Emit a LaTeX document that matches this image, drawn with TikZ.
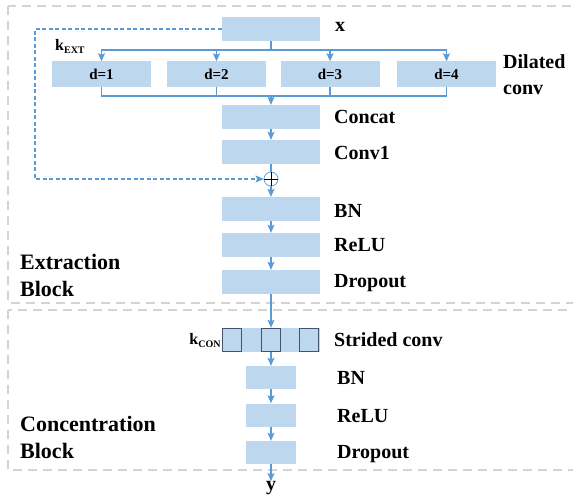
\documentclass[tikz,border=0pt]{standalone}
\usepackage{fontspec}
\setmainfont{Liberation Serif}
\usetikzlibrary{arrows.meta}

\definecolor{boxblue}{HTML}{BDD7EE}
\definecolor{lineblue}{HTML}{5B9BD5}
\definecolor{framegray}{HTML}{D4D4D4}
\definecolor{kernelgray}{HTML}{44546A}

\tikzset{
    layer/.style={fill=boxblue, minimum width=98pt, minimum height=24pt, inner sep=0pt},
    thinlayer/.style={layer, minimum width=50pt, minimum height=23pt},
    kernel/.style={draw=kernelgray, line width=1.4pt, fill=boxblue, minimum width=19pt, minimum height=23pt, inner sep=0pt},
    lbl/.style={anchor=west, font=\fontsize{20}{26}\selectfont\bfseries, align=left, inner sep=0pt},
    blocklbl/.style={anchor=west, font=\fontsize{22}{27}\selectfont\bfseries, align=left, inner sep=0pt},
    dlbl/.style={font=\fontsize{15}{15}\selectfont\bfseries},
    flow/.style={draw=lineblue, line width=1.2pt},
    skipline/.style={flow, dash pattern=on 4pt off 2.5pt},
    frame/.style={draw=framegray, line width=1.6pt, dash pattern=on 9pt off 6pt}
}

\begin{document}
\begin{tikzpicture}[x=1pt, y=-1pt, >={Stealth[length=8pt,width=7pt,inset=1.5pt]}]
    \useasboundingbox (0,0) rectangle (573,495);

    % Block frames
    \draw[frame] (8,6) rectangle (600,303);
    \draw[frame] (8,310) rectangle (600,470);
    \node[blocklbl] (extlbl) at (20,275) {Extraction\\Block};
    \node[blocklbl] (conlbl) at (20,437) {Concentration\\Block};

    % Extraction block
    \node[layer] (x) at (271,29) {};
    \node[lbl] (xlbl) at (335,27) {x};

    \node[layer, minimum width=99pt, minimum height=25pt] (d1) at (101.5,74) {};
    \node[layer, minimum width=99pt, minimum height=25pt] (d2) at (216.5,74) {};
    \node[layer, minimum width=99pt, minimum height=25pt] (d3) at (330,74) {};
    \node[layer, minimum width=99pt, minimum height=25pt] (d4) at (446.5,74) {};
    \foreach \i in {1,...,4}
        \node[dlbl] (dl\i) at (d\i) {d=\i};
    \node[lbl] (dillbl) at (503,75) {Dilated\\conv};
    \node[anchor=west, inner sep=0pt] (kext) at (55,46)
        {\fontsize{16}{16}\selectfont\bfseries k\raisebox{-3pt}{\fontsize{10}{10}\selectfont EXT}};

    \node[layer] (concat) at (271,117) {};
    \node[lbl] (concatlbl) at (334,117) {Concat};
    \node[layer] (conv1) at (271,152) {};
    \node[lbl] (conv1lbl) at (334,153) {Conv1};

    \node[circle, draw=lineblue, line width=0.7pt, minimum size=14pt, inner sep=0pt] (plus) at (271,179) {};
    \draw[line width=1pt] (plus.west) -- (plus.east) (plus.north) -- (plus.south);

    \node[layer] (bn) at (271,209) {};
    \node[lbl] (bnlbl) at (334,211) {BN};
    \node[layer] (relu) at (271,245) {};
    \node[lbl] (relulbl) at (334,245) {ReLU};
    \node[layer] (drop) at (271,282) {};
    \node[lbl] (droplbl) at (334,283) {Dropout};

    % Concentration block
    \node[layer] (strided) at (271,340) {};
    \foreach \k/\xk in {1/232,2/271,3/309}
        \node[kernel] (ker\k) at (\xk,340) {};
    \node[lbl] (stridedlbl) at (334,340) {Strided conv};
    \node[anchor=east, inner sep=1pt] (kcon) at (ker1.west)
        {\fontsize{16}{16}\selectfont\bfseries k\raisebox{-3pt}{\fontsize{10}{10}\selectfont CON}};

    \node[thinlayer] (bn2) at (271,377.5) {};
    \node[lbl] (bn2lbl) at (337,378) {BN};
    \node[thinlayer] (relu2) at (271,415) {};
    \node[lbl] (relu2lbl) at (337,416) {ReLU};
    \node[thinlayer] (drop2) at (271,452.5) {};
    \node[lbl] (drop2lbl) at (337,454) {Dropout};

    \node[font=\fontsize{20}{20}\selectfont\bfseries, inner sep=0pt] (y) at (271,488) {y};

    % Connectors
    \coordinate (split) at (271,50);
    \coordinate (merge) at (271,96);
    \coordinate (skip) at (35,179);
    \draw[flow] (x) -- (split);
    \foreach \i in {1,...,4} {
        \draw[flow, ->] (split) -| (d\i.north);
        \draw[flow] (d\i.south) |- (merge);
    }
    \draw[flow, ->] (merge) -- (concat);
    \draw[flow, ->] (concat) -- (conv1);
    \draw[flow] (conv1) -- (plus);
    \draw[skipline, ->] (x.west) -| (skip) -- (plus);
    \draw[flow, ->] (plus) -- (bn);
    \draw[flow, ->] (bn) -- (relu);
    \draw[flow, ->] (relu) -- (drop);
    \draw[flow, ->] (drop) -- (strided);
    \draw[flow, ->] (ker2.south) -- (bn2);
    \draw[flow, ->] (bn2) -- (relu2);
    \draw[flow, ->] (relu2) -- (drop2);
    \draw[flow, ->] (drop2) -- (y);
\end{tikzpicture}
\end{document}
